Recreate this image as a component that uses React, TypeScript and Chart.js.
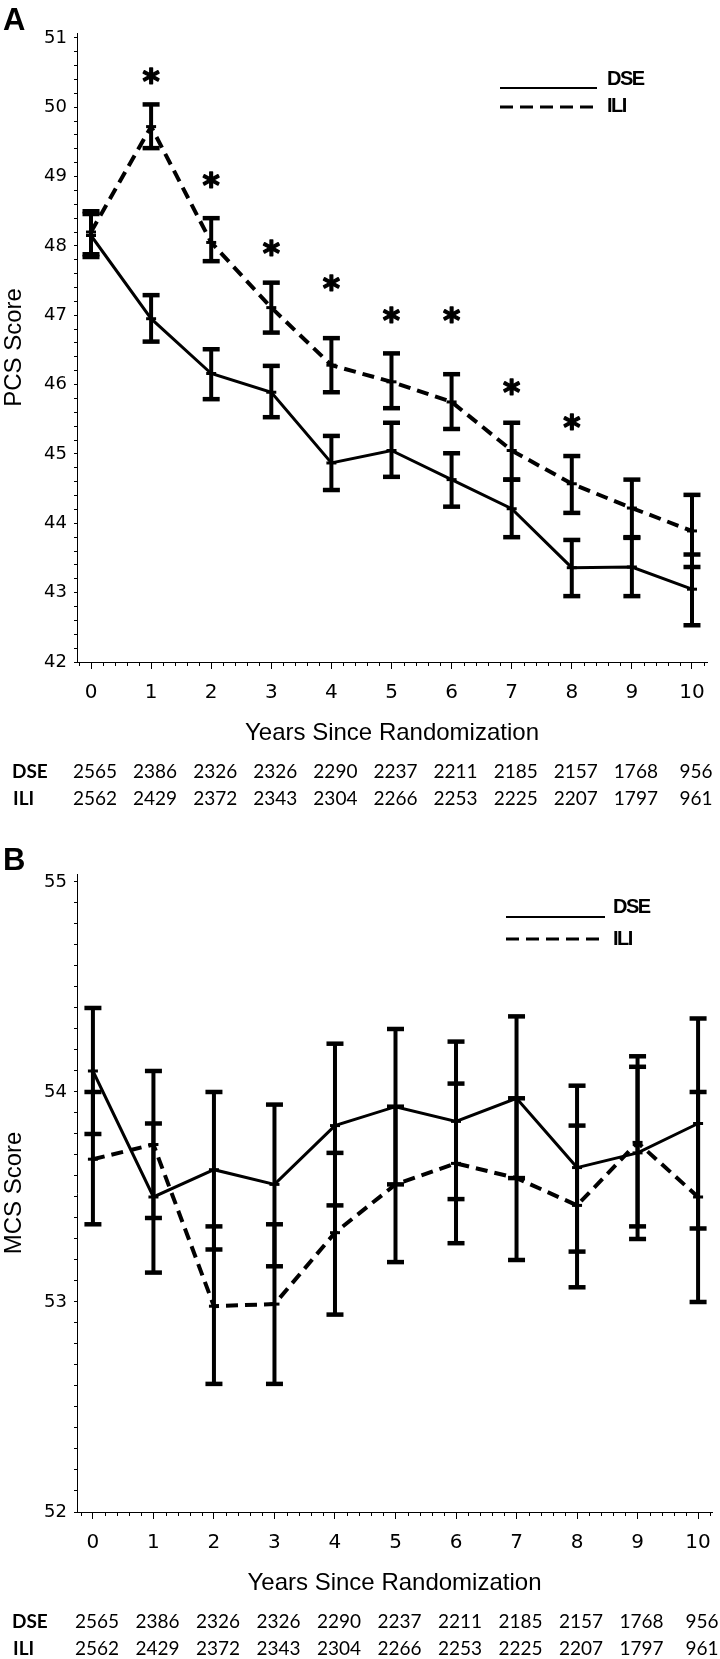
import React, { useEffect, useRef } from "react";
import { Chart, registerables } from "chart.js";

Chart.register(...registerables);

// ---------- data ----------
const years = [0, 1, 2, 3, 4, 5, 6, 7, 8, 9, 10];
const dseCounts = [2565, 2386, 2326, 2326, 2290, 2237, 2211, 2185, 2157, 1768, 956];
const iliCounts = [2562, 2429, 2372, 2343, 2304, 2266, 2253, 2225, 2207, 1797, 961];

// Panel A: PCS score (mean and 95% CI)
const pcsDseMean = [48.15, 46.95, 46.16, 45.89, 44.87, 45.05, 44.63, 44.21, 43.36, 43.37, 43.05];
const pcsDseLow = [47.84, 46.62, 45.79, 45.53, 44.48, 44.67, 44.24, 43.8, 42.95, 42.95, 42.53];
const pcsDseHigh = [48.46, 47.29, 46.51, 46.27, 45.26, 45.45, 45.01, 44.63, 43.76, 43.79, 43.55];
const pcsIliMean = [48.2, 49.72, 48.05, 47.11, 46.28, 46.04, 45.75, 45.05, 44.57, 44.22, 43.89];
const pcsIliLow = [47.88, 49.41, 47.78, 46.75, 45.89, 45.66, 45.36, 44.63, 44.15, 43.8, 43.37];
const pcsIliHigh = [48.5, 50.04, 48.4, 47.47, 46.67, 46.45, 46.15, 45.45, 44.97, 44.63, 44.41];
// significance markers (position of the asterisk, by year)
const pcsStars = [null, 50.45, 48.95, 47.97, 47.47, 47.0, 47.0, 45.97, 45.46, null, null];

// Panel B: MCS score (mean and 95% CI)
const mcsDseMean = [54.1, 53.5, 53.63, 53.56, 53.84, 53.93, 53.86, 53.97, 53.64, 53.71, 53.85];
const mcsDseLow = [53.8, 53.14, 53.25, 53.17, 53.46, 53.56, 53.49, 53.59, 53.24, 53.3, 53.35];
const mcsDseHigh = [54.4, 53.85, 54.0, 53.94, 54.23, 54.3, 54.24, 54.36, 54.03, 54.12, 54.35];
const mcsIliMean = [53.68, 53.75, 52.98, 52.99, 53.33, 53.56, 53.66, 53.59, 53.46, 53.76, 53.5];
const mcsIliLow = [53.37, 53.4, 52.61, 52.61, 52.94, 53.19, 53.28, 53.2, 53.07, 53.36, 53.0];
const mcsIliHigh = [54.0, 54.1, 53.36, 53.37, 53.71, 53.93, 54.04, 53.97, 53.84, 54.17, 54.0];
const mcsStars: (number | null)[] = [null, null, null, null, null, null, null, null, null, null, null];

const groupNames = ["DSE", "ILI"];
const xTitle = "Years Since Randomization";

// ---------- panel specs (layout) ----------
type Series = { mean: number[]; lo: number[]; hi: number[] };
type Spec = {
  letter: string;
  yTitle: string;
  top: number;
  height: number;
  padTop: number;
  padBottom: number;
  padRight: number;
  yMin: number;
  yMax: number;
  yStep: number;
  xMin: number;
  xMax: number;
  dse: Series;
  ili: Series;
  stars: (number | null)[];
  letterBase: number;
  legend: { x1: number; x2: number; ySolid: number; yDash: number; textX: number; dseBase: number; iliBase: number };
};

const specs: Spec[] = [
  {
    letter: "A",
    yTitle: "PCS Score",
    top: 0,
    height: 820,
    padTop: 33,
    padBottom: 118,
    padRight: 13,
    yMin: 42,
    yMax: 51.07,
    yStep: 0.2,
    xMin: -0.233,
    xMax: 10.25,
    dse: { mean: pcsDseMean, lo: pcsDseLow, hi: pcsDseHigh },
    ili: { mean: pcsIliMean, lo: pcsIliLow, hi: pcsIliHigh },
    stars: pcsStars,
    letterBase: 30,
    legend: { x1: 500, x2: 597, ySolid: 88, yDash: 107, textX: 607, dseBase: 85, iliBase: 112 },
  },
  {
    letter: "B",
    yTitle: "MCS Score",
    top: 820,
    height: 839,
    padTop: 54,
    padBottom: 107,
    padRight: 5,
    yMin: 52,
    yMax: 55.038,
    yStep: 0.1,
    xMin: -0.263,
    xMax: 10.23,
    dse: { mean: mcsDseMean, lo: mcsDseLow, hi: mcsDseHigh },
    ili: { mean: mcsIliMean, lo: mcsIliLow, hi: mcsIliHigh },
    stars: mcsStars,
    letterBase: 50,
    legend: { x1: 506, x2: 605, ySolid: 97, yDash: 119, textX: 613, dseBase: 93, iliBase: 125 },
  },
];

const isInt = (v: number) => Math.abs(v - Math.round(v)) < 1e-6;

function makeOverlay(spec: Spec) {
  return {
    id: "overlay" + spec.letter,
    afterDatasetsDraw(chart: any) {
      const ctx = chart.ctx as CanvasRenderingContext2D;
      const xs = chart.scales.x;
      const ys = chart.scales.y;
      ctx.save();
      ctx.strokeStyle = "#000";
      ctx.lineCap = "butt";
      for (const s of [spec.dse, spec.ili]) {
        for (let i = 0; i < years.length; i++) {
          const px = xs.getPixelForValue(years[i]);
          const pl = ys.getPixelForValue(s.lo[i]);
          const ph = ys.getPixelForValue(s.hi[i]);
          ctx.lineWidth = 4;
          ctx.beginPath();
          ctx.moveTo(px, pl);
          ctx.lineTo(px, ph);
          ctx.stroke();
          ctx.lineWidth = 4.5;
          for (const py of [pl, ph]) {
            ctx.beginPath();
            ctx.moveTo(px - 8.5, py);
            ctx.lineTo(px + 8.5, py);
            ctx.stroke();
          }
        }
      }
      ctx.restore();
    },
    afterDraw(chart: any) {
      const ctx = chart.ctx as CanvasRenderingContext2D;
      const xs = chart.scales.x;
      const ys = chart.scales.y;
      const area = chart.chartArea;
      ctx.save();
      ctx.fillStyle = "#000";
      ctx.strokeStyle = "#000";

      // minor x ticks
      ctx.lineWidth = 1;
      const k0 = Math.ceil(spec.xMin * 5);
      const k1 = Math.floor(spec.xMax * 5);
      for (let k = k0; k <= k1; k++) {
        if (k % 5 === 0) continue;
        const px = Math.round(xs.getPixelForValue(k / 5)) + 0.5;
        if (px <= area.left + 1) continue;
        ctx.beginPath();
        ctx.moveTo(px, area.bottom);
        ctx.lineTo(px, area.bottom + 4);
        ctx.stroke();
      }

      // panel letter
      ctx.font = 'bold 31px "Liberation Sans", Arial, sans-serif';
      ctx.textAlign = "left";
      ctx.textBaseline = "alphabetic";
      ctx.fillText(spec.letter, 3, spec.letterBase);

      // y title
      ctx.save();
      ctx.translate(21, (area.top + area.bottom) / 2);
      ctx.rotate(-Math.PI / 2);
      ctx.font = '24px "Liberation Sans", Arial, sans-serif';
      ctx.textAlign = "center";
      ctx.fillText(spec.yTitle, 0, 0);
      ctx.restore();

      // x title
      ctx.font = '24px "Liberation Sans", Arial, sans-serif';
      ctx.textAlign = "center";
      ctx.fillText(xTitle, (area.left + area.right) / 2, area.bottom + 78);

      // legend
      const L = spec.legend;
      ctx.lineWidth = 2;
      ctx.setLineDash([]);
      ctx.beginPath();
      ctx.moveTo(L.x1, L.ySolid);
      ctx.lineTo(L.x2, L.ySolid);
      ctx.stroke();
      ctx.lineWidth = 3;
      ctx.setLineDash([13, 7]);
      ctx.beginPath();
      ctx.moveTo(L.x1, L.yDash);
      ctx.lineTo(L.x2, L.yDash);
      ctx.stroke();
      ctx.setLineDash([]);
      ctx.font = 'bold 20px "Liberation Sans", Arial, sans-serif';
      (ctx as any).letterSpacing = "-1.5px";
      ctx.textAlign = "left";
      ctx.fillText(groupNames[0], L.textX, L.dseBase);
      ctx.fillText(groupNames[1], L.textX, L.iliBase);
      (ctx as any).letterSpacing = "0px";

      // asterisks
      ctx.font = 'bold 33px "DejaVu Sans", sans-serif';
      ctx.textAlign = "center";
      ctx.lineWidth = 1.4;
      ctx.lineJoin = "round";
      const m = ctx.measureText("*");
      const dy = (m.actualBoundingBoxAscent - m.actualBoundingBoxDescent) / 2;
      for (let i = 0; i < years.length; i++) {
        const v = spec.stars[i];
        if (v == null) continue;
        const sx = xs.getPixelForValue(years[i]);
        const sy = ys.getPixelForValue(v) + dy;
        ctx.fillText("*", sx, sy);
        ctx.strokeText("*", sx, sy);
      }

      // number at risk rows
      const rowBase1 = area.bottom + 116;
      const rowBase2 = area.bottom + 143;
      ctx.font = 'bold 19px Lato, "Noto Sans", sans-serif';
      ctx.textAlign = "left";
      ctx.fillText(groupNames[0], 12, rowBase1);
      ctx.fillText(groupNames[1], 13, rowBase2);
      ctx.font = '19px Lato, "Noto Sans", sans-serif';
      ctx.textAlign = "center";
      for (let i = 0; i < years.length; i++) {
        const px = xs.getPixelForValue(years[i]) + 4;
        ctx.fillText(String(dseCounts[i]), px, rowBase1);
        ctx.fillText(String(iliCounts[i]), px, rowBase2);
      }
      ctx.restore();
    },
  };
}

function buildConfig(spec: Spec): any {
  const pts = (arr: number[]) => years.map((x, i) => ({ x, y: arr[i] }));
  return {
    type: "line",
    data: {
      datasets: [
        {
          label: groupNames[0],
          data: pts(spec.dse.mean),
          borderColor: "#000",
          backgroundColor: "#000",
          borderWidth: 3,
          pointStyle: "line",
          pointRadius: 5,
          pointBorderWidth: 3,
          pointBorderColor: "#000",
          fill: false,
          tension: 0,
        },
        {
          label: groupNames[1],
          data: pts(spec.ili.mean),
          borderColor: "#000",
          backgroundColor: "#000",
          borderWidth: 4,
          borderDash: [12, 7],
          pointStyle: "line",
          pointRadius: 5,
          pointBorderWidth: 3,
          pointBorderColor: "#000",
          fill: false,
          tension: 0,
        },
      ],
    },
    options: {
      animation: false,
      responsive: true,
      maintainAspectRatio: false,
      events: [],
      layout: { padding: { top: spec.padTop, bottom: spec.padBottom, left: 0, right: spec.padRight } },
      plugins: { legend: { display: false }, tooltip: { enabled: false }, title: { display: false } },
      scales: {
        x: {
          type: "linear",
          min: spec.xMin,
          max: spec.xMax,
          afterFit: (s: any) => {
            s.height = 40;
            s.paddingLeft = 0;
            s.paddingRight = 0;
          },
          ticks: {
            stepSize: 1,
            maxTicksLimit: 1000,
            includeBounds: false,
            autoSkip: false,
            maxRotation: 0,
            minRotation: 0,
            padding: 12,
            color: "#000",
            font: { family: '"DejaVu Sans", sans-serif', size: 20 },
            callback: (v: number) => (isInt(v) ? String(Math.round(v)) : ""),
          },
          grid: { display: true, drawOnChartArea: false, drawTicks: true, tickLength: 7, tickColor: "#000", tickWidth: 1 },
          border: { display: true, color: "#000", width: 1 },
        },
        y: {
          type: "linear",
          min: spec.yMin,
          max: spec.yMax,
          afterFit: (s: any) => {
            s.width = 77;
            s.paddingTop = 0;
            s.paddingBottom = 0;
          },
          ticks: {
            stepSize: spec.yStep,
            maxTicksLimit: 1000,
            includeBounds: false,
            autoSkip: false,
            padding: 7,
            color: "#000",
            font: { family: '"DejaVu Sans", sans-serif', size: 18 },
            callback: (v: number) => (isInt(v) ? String(Math.round(v)) : ""),
          },
          grid: { display: true, drawOnChartArea: false, drawTicks: true, tickLength: 3, tickColor: "#000", tickWidth: 1 },
          border: { display: true, color: "#000", width: 1 },
        },
      },
    },
    plugins: [makeOverlay(spec)],
  };
}

function Panel({ spec }: { spec: Spec }) {
  const ref = useRef<HTMLCanvasElement>(null);
  useEffect(() => {
    const chart = new Chart(ref.current as HTMLCanvasElement, buildConfig(spec));
    return () => chart.destroy();
  }, [spec]);
  return (
    <div style={{ position: "absolute", left: 0, top: spec.top, width: 720, height: spec.height }}>
      <canvas ref={ref} />
    </div>
  );
}

export default function App() {
  return (
    <div style={{ position: "absolute", left: 0, top: 0, width: 720, height: 1659, background: "#fff" }}>
      {specs.map((s) => (
        <Panel key={s.letter} spec={s} />
      ))}
    </div>
  );
}
